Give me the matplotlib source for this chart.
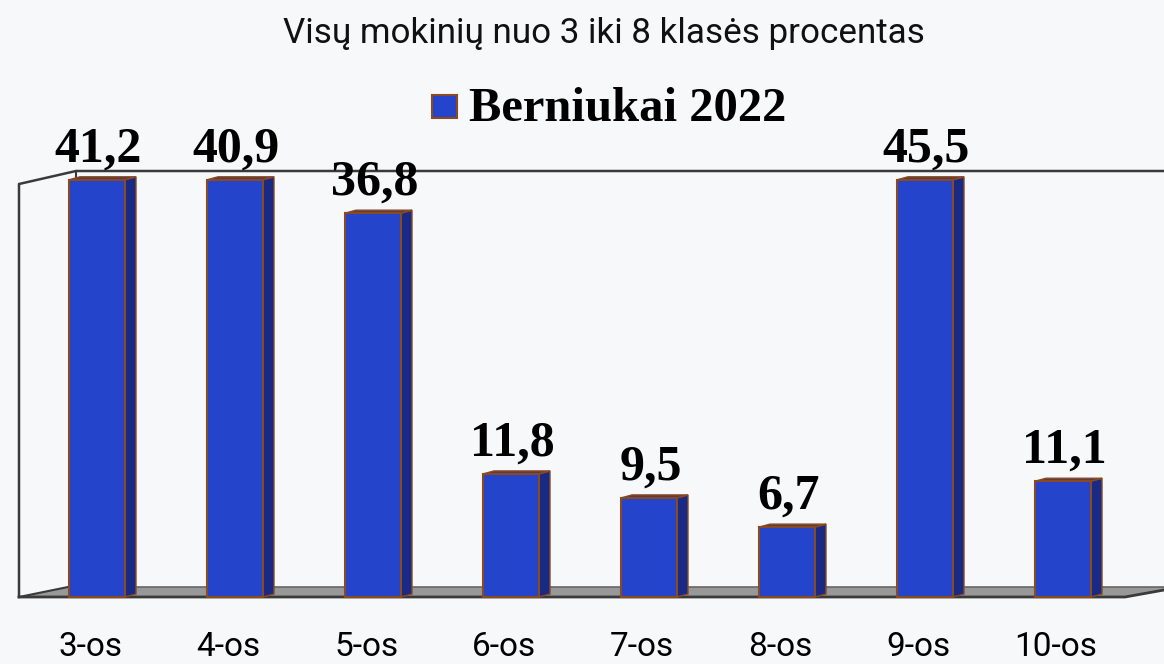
import matplotlib
matplotlib.use('Agg')
import matplotlib.pyplot as plt
from matplotlib.patches import Polygon

# data (axis stops at 40, higher bars are cut off)
categories = ['3-os', '4-os', '5-os', '6-os', '7-os', '8-os', '9-os', '10-os']
labels = ['41,2', '40,9', '36,8', '11,8', '9,5', '6,7', '45,5', '11,1']
values = [41.2, 40.9, 36.8, 11.8, 9.5, 6.7, 45.5, 11.1]
axis_max = 40
title = 'Visų mokinių nuo 3 iki 8 klasės procentas'
legend_label = 'Berniukai 2022'

bg = '#f7f8fa'
front = '#2444cc'
side = '#182a86'
edge = '#8a4a20'
line = '#3a3a3a'

W, H = 1164, 664
px_per_unit = 10.43
px_per_cat = 138.0
x0_px = 97.0
y0_px = 597.0


def X(px):
    return (px - x0_px) / px_per_cat


def Y(py):
    return (y0_px - py) / px_per_unit


fig = plt.figure(figsize=(W / 100, H / 100), dpi=100, facecolor=bg)
ax = fig.add_axes([0, 0, 1, 1])
ax.set_xlim(X(0), X(W))
ax.set_ylim(Y(H), Y(0))
ax.axis('off')

sans = 'Roboto'
serif = 'Liberation Serif'

# walls and floor
ax.add_patch(Polygon([(X(19), Y(597)), (X(68), Y(587)), (X(1164), Y(587)),
                      (X(1164), Y(590)), (X(1125), Y(597))],
                     facecolor='#989898', edgecolor='none', zorder=1))
ax.plot([X(19), X(1125), X(1164)], [Y(597), Y(597), Y(590)], color=line, lw=2, zorder=2)
ax.plot([X(68), X(1164)], [Y(587), Y(587)], color='#666666', lw=1.2, zorder=2)
ax.plot([X(19), X(68)], [Y(597), Y(587)], color=line, lw=1.5, zorder=2)
ax.plot([X(19), X(19), X(76), X(1164)], [Y(597), Y(184), Y(171), Y(171)], color=line, lw=1.8, zorder=2)
ax.plot([X(76), X(76)], [Y(171), Y(181)], color=line, lw=1.5, zorder=2)

# bars
width = 56 / px_per_cat
dx = 11 / px_per_cat
dy = 3 / px_per_unit
for i, v in enumerate(values):
    h = min(v, axis_max)
    l = i - width / 2
    r = i + width / 2
    ax.add_patch(Polygon([(r, 0), (r + dx, dy), (r + dx, h + dy), (r, h)],
                         facecolor=side, edgecolor=edge, lw=1, zorder=3))
    ax.add_patch(Polygon([(l, h), (l + dx, h + dy), (r + dx, h + dy), (r, h)],
                         facecolor='#5a3a50', edgecolor=edge, lw=1, zorder=3))
ax.bar(range(len(values)), [min(v, axis_max) for v in values], width=width,
       color=front, edgecolor=edge, linewidth=1.5, zorder=4)

# value labels
label_gap = 0.7
for i, v in enumerate(values):
    ax.text(i + 0.01, min(v, axis_max) + label_gap, labels[i], ha='center', va='bottom',
            family=serif, weight='bold', fontsize=36, color='black', zorder=5)

# category labels
for i, c in enumerate(categories):
    ax.text(i - 0.05, Y(647), c, ha='center', va='center', family=sans,
            fontsize=24, color='black')

ax.text(X(604), Y(33), title, ha='center', va='center', family=sans, fontsize=25.2, color='#111111')

# legend
ax.add_patch(Polygon([(X(432), Y(95)), (X(457), Y(95)), (X(457), Y(118)), (X(432), Y(118))],
                     facecolor=front, edgecolor=edge, lw=1.5, zorder=4))
ax.text(X(469), Y(109), legend_label, ha='left', va='center', family=serif, weight='bold',
        fontsize=35, color='black')

fig.savefig('out.png', dpi=100, facecolor=bg)
